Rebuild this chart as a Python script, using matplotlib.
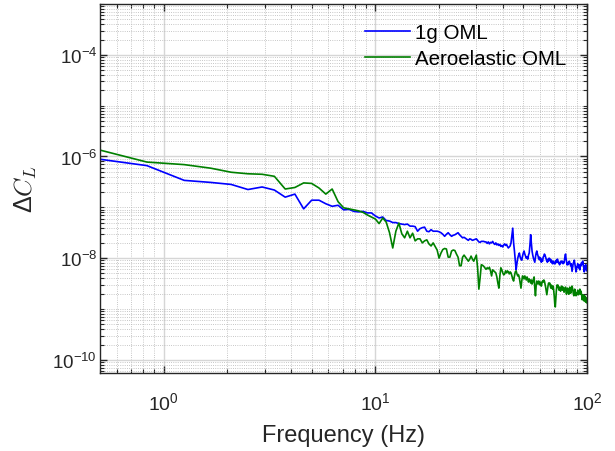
import matplotlib
matplotlib.use("Agg")
import matplotlib.pyplot as plt
from matplotlib.ticker import FixedLocator, NullFormatter
import numpy as np

plt.rcParams.update({
    "font.family": "Liberation Sans",
    "mathtext.default": "regular",
    "axes.linewidth": 1.0,
})

# ── Data (spectral bins, df) ─────────────────────────────────────────────────
df = 5 / 12
n_bins = 240
freq = np.arange(1, n_bins + 1) * df

# log10 of Delta C_L, one value per bin
dcl_1g_exp = [
    -6.01, -6.18, -6.47, -6.51, -6.55, -6.65, -6.60, -6.66, -6.80, -6.74,
    -7.03, -6.86, -6.86, -6.93, -6.98, -6.96, -7.05, -7.04, -7.08, -7.09,
    -7.08, -7.11, -7.11, -7.17, -7.21, -7.19, -7.26, -7.27, -7.30, -7.30,
    -7.32, -7.33, -7.34, -7.33, -7.37, -7.37, -7.38, -7.47, -7.42, -7.40,
    -7.39, -7.47, -7.48, -7.44, -7.47, -7.47, -7.47, -7.48, -7.50, -7.53,
    -7.57, -7.53, -7.50, -7.54, -7.57, -7.55, -7.54, -7.52, -7.50, -7.54,
    -7.57, -7.60, -7.59, -7.61, -7.63, -7.65, -7.62, -7.63, -7.65, -7.64,
    -7.63, -7.62, -7.65, -7.68, -7.69, -7.67, -7.67, -7.67, -7.68, -7.68,
    -7.71, -7.68, -7.72, -7.69, -7.70, -7.67, -7.71, -7.73, -7.70, -7.74,
    -7.72, -7.75, -7.73, -7.77, -7.75, -7.78, -7.74, -7.72, -7.75, -7.73,
    -7.77, -7.80, -7.78, -7.76, -7.70, -7.56, -7.41, -7.70, -7.86, -8.04,
    -8.23, -8.10, -8.00, -7.94, -7.90, -7.98, -8.02, -8.04, -7.96, -7.90,
    -7.86, -7.92, -7.96, -8.00, -7.98, -8.02, -7.94, -7.90, -7.74, -7.54,
    -7.70, -7.86, -7.94, -8.00, -8.04, -8.08, -7.98, -7.90, -7.86, -7.92,
    -7.96, -8.02, -7.98, -8.04, -8.00, -8.08, -8.04, -8.06, -7.98, -7.96,
    -7.92, -7.94, -7.98, -8.02, -8.06, -8.08, -8.02, -8.06, -8.00, -8.04,
    -8.02, -8.08, -8.04, -8.09, -8.11, -8.06, -8.08, -8.11, -8.08, -8.11,
    -8.06, -8.04, -8.08, -8.02, -8.06, -8.09, -8.08, -8.13, -8.11, -8.09,
    -8.06, -8.09, -8.06, -8.08, -8.11, -8.08, -8.09, -8.02, -7.96, -7.92,
    -8.00, -8.06, -8.13, -8.09, -8.13, -8.08, -8.11, -8.06, -8.09, -8.11,
    -8.15, -8.11, -8.19, -8.26, -8.19, -8.13, -8.09, -8.08, -8.04, -8.09,
    -8.15, -8.21, -8.27, -8.23, -8.17, -8.15, -8.11, -8.15, -8.19, -8.13,
    -8.19, -8.23, -8.17, -8.13, -8.15, -8.09, -8.13, -8.08, -8.06, -8.09,
    -8.15, -8.21, -8.27, -8.21, -8.15, -8.19, -8.13, -8.19, -8.25, -8.21,
]

dcl_aero_exp = [
    -5.79, -6.11, -6.16, -6.23, -6.31, -6.34, -6.35, -6.39, -6.64, -6.61,
    -6.52, -6.53, -6.62, -6.74, -6.64, -6.89, -7.01, -7.03, -7.05, -7.07,
    -7.10, -7.15, -7.19, -7.23, -7.32, -7.21, -7.29, -7.50, -7.80, -7.47,
    -7.31, -7.52, -7.60, -7.47, -7.60, -7.51, -7.66, -7.62, -7.62, -7.70,
    -7.66, -7.64, -7.72, -7.76, -7.70, -7.77, -7.84, -8.00, -7.90, -7.83,
    -7.81, -7.82, -7.98, -7.98, -7.86, -7.84, -7.85, -7.92, -7.98, -8.15,
    -8.15, -7.98, -7.94, -7.98, -8.02, -8.06, -8.02, -7.96, -8.02, -8.06,
    -8.00, -7.94, -8.19, -8.61, -8.39, -8.13, -8.14, -8.16, -8.19, -8.22,
    -8.19, -8.21, -8.18, -8.25, -8.35, -8.23, -8.25, -8.27, -8.29, -8.37,
    -8.49, -8.59, -8.35, -8.19, -8.23, -8.29, -8.33, -8.31, -8.25, -8.29,
    -8.25, -8.27, -8.31, -8.27, -8.29, -8.35, -8.41, -8.45, -8.35, -8.27,
    -8.25, -8.31, -8.35, -8.33, -8.39, -8.49, -8.59, -8.45, -8.35, -8.37,
    -8.41, -8.35, -8.39, -8.43, -8.37, -8.41, -8.47, -8.41, -8.43, -8.49,
    -8.43, -8.51, -8.47, -8.41, -8.37, -8.59, -8.74, -8.55, -8.45, -8.49,
    -8.51, -8.45, -8.49, -8.53, -8.47, -8.55, -8.49, -8.45, -8.47, -8.43,
    -8.45, -8.51, -8.57, -8.65, -8.72, -8.63, -8.55, -8.49, -8.51, -8.49,
    -8.55, -8.59, -8.53, -8.57, -8.61, -8.55, -8.63, -8.74, -8.90, -8.96,
    -8.78, -8.63, -8.53, -8.57, -8.53, -8.59, -8.63, -8.57, -8.61, -8.65,
    -8.59, -8.55, -8.59, -8.63, -8.57, -8.61, -8.67, -8.63, -8.59, -8.57,
    -8.65, -8.71, -8.65, -8.59, -8.61, -8.67, -8.71, -8.63, -8.57, -8.61,
    -8.69, -8.65, -8.59, -8.55, -8.59, -8.65, -8.71, -8.74, -8.67, -8.61,
    -8.65, -8.71, -8.74, -8.69, -8.72, -8.67, -8.63, -8.67, -8.72, -8.69,
    -8.65, -8.61, -8.67, -8.71, -8.65, -8.71, -8.76, -8.82, -8.76, -8.72,
    -8.78, -8.84, -8.80, -8.74, -8.78, -8.86, -8.82, -8.78, -8.88, -8.84,
]

series_labels = ["1g OML", "Aeroelastic OML"]
series_colors = ["#0000FF", "#008000"]

x_major = [1, 10, 100]
x_major_labels = [r"$\mathdefault{10^{0}}$", r"$\mathdefault{10^{1}}$",
                  r"$\mathdefault{10^{2}}$"]
y_major = [1e-10, 1e-8, 1e-6, 1e-4]
y_major_labels = [r"$\mathdefault{10^{-10}}$", r"$\mathdefault{10^{-8}}$",
                  r"$\mathdefault{10^{-6}}$", r"$\mathdefault{10^{-4}}$"]

# ── Figure ───────────────────────────────────────────────────────────────────
fig = plt.figure(figsize=(6.15, 4.52), dpi=100)
ax = fig.add_axes([100 / 615, 1 - 374 / 452, 487 / 615, 369 / 452])

for vals, lab, col in zip([dcl_1g_exp, dcl_aero_exp], series_labels,
                          series_colors):
    ax.plot(freq, 10.0 ** np.array(vals), color=col, lw=1.2, label=lab)

ax.set_xscale("log")
ax.set_yscale("log")
ax.set_xlim(0.5, 100)
ax.set_ylim(5.5e-11, 1e-3)

ax.xaxis.set_major_locator(FixedLocator(x_major))
ax.xaxis.set_minor_locator(FixedLocator(
    [k * 10.0 ** e for e in range(-1, 2) for k in range(2, 10)]))
ax.yaxis.set_major_locator(FixedLocator(y_major))
ax.yaxis.set_minor_locator(FixedLocator(
    [k * 10.0 ** e for e in range(-11, -2) for k in range(1, 10)
     if not (k == 1 and e % 2 == 0)]))
ax.set_xticklabels(x_major_labels)
ax.set_yticklabels(y_major_labels)
ax.xaxis.set_minor_formatter(NullFormatter())
ax.yaxis.set_minor_formatter(NullFormatter())

ax.tick_params(which="both", direction="in", top=True, right=True,
               colors="#262626")
ax.tick_params(which="major", length=5, width=1.0)
ax.tick_params(which="minor", length=3, width=0.8)
ax.tick_params(axis="x", which="major", pad=13, labelsize=14)
ax.tick_params(axis="y", which="major", pad=2, labelsize=13.5)
for sp in ax.spines.values():
    sp.set_color("#262626")

ax.grid(True, which="major", color="#d6d6d6", lw=1.0, ls="-")
ax.grid(True, which="minor", color="#b4b4b4", lw=0.6, ls=":")
ax.set_axisbelow(True)

ax.set_xlabel("Frequency (Hz)", fontsize=17, color="#262626", labelpad=8)
ax.set_ylabel(r"$\Delta\mathit{C}_{\mathit{L}}$", fontsize=18,
              color="#262626", math_fontfamily="cm", labelpad=10)

ax.legend(loc="upper left", bbox_to_anchor=(0.544, 0.948), frameon=False,
          fontsize=14.8, borderpad=0, borderaxespad=0, handlelength=2.2,
          handletextpad=0.25, labelspacing=0.35)

fig.savefig("out.png", dpi=100)
plt.close(fig)
